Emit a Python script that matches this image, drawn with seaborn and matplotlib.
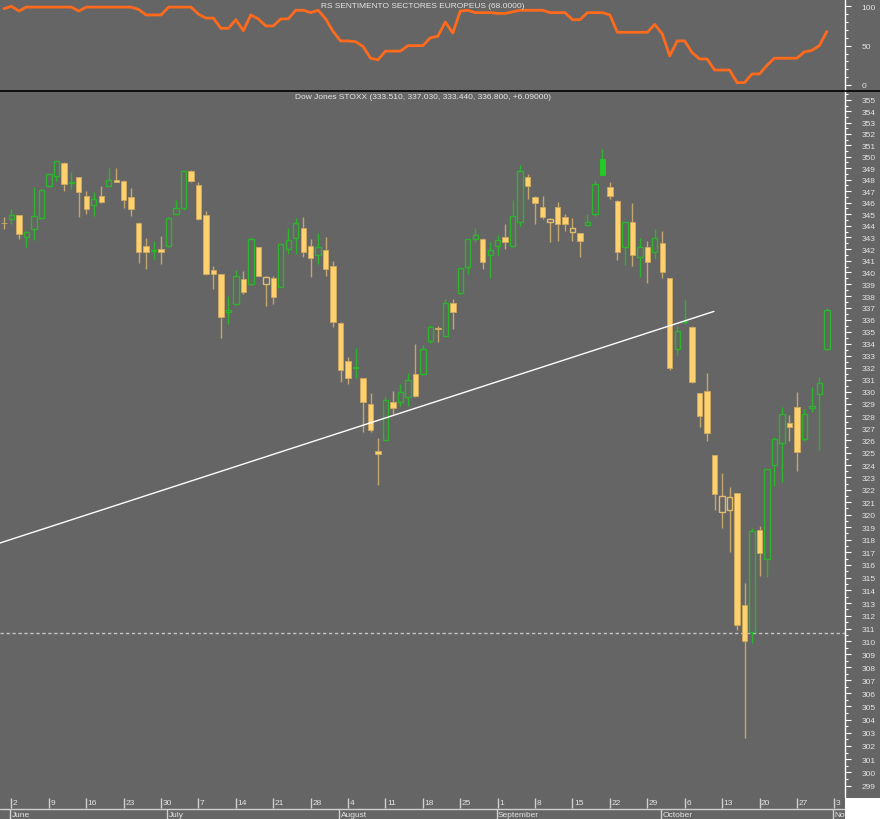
"""
Dow Jones STOXX daily candles (May 30 - Oct 31 2014) with the
RS Sentimento Sectores Europeus indicator panel on top.
"""

import numpy as np
import pandas as pd
import seaborn as sns
import matplotlib.pyplot as plt
from matplotlib.lines import Line2D
from matplotlib.patches import Rectangle
from matplotlib.ticker import FixedLocator, FuncFormatter, NullLocator

# ---- data -------------------------------------------------------------
opens = [344.22, 344.54, 344.90, 343.00, 343.68, 344.71, 347.44, 348.35, 349.48, 347.66,
         348.19, 346.60, 345.82, 346.56, 347.44, 347.95, 347.89, 346.46, 344.27, 342.24,
         341.86, 342.00, 342.24, 344.99, 345.50, 348.77, 347.56, 344.90, 340.23, 339.83,
         336.65, 337.32, 339.42, 339.03, 342.16, 339.03, 339.50, 338.80, 341.96, 342.92,
         343.84, 342.29, 341.45, 341.93, 340.58, 335.74, 332.58, 331.94, 331.13, 328.98,
         325.17, 326.06, 329.17, 329.12, 329.53, 331.45, 331.48, 334.19, 335.34, 334.67,
         337.40, 338.26, 340.43, 342.85, 342.90, 341.50, 342.29, 343.07, 342.29, 344.35,
         348.26, 346.46, 345.60, 344.30, 345.65, 344.76, 343.43, 343.35, 344.05, 345.00,
         349.79, 347.39, 346.18, 342.16, 344.30, 341.31, 342.16, 341.73, 342.52, 339.50,
         333.55, 335.77, 335.41, 329.89, 330.03, 324.82, 320.24, 320.41, 321.71, 312.86,
         310.70, 318.78, 316.48, 324.01, 325.77, 327.42, 328.70, 326.12, 328.68, 329.81,
         333.51]
highs = [344.78, 345.42, 344.92, 343.52, 347.36, 347.20, 348.53, 349.65, 349.55, 348.70,
         348.25, 346.97, 346.88, 347.42, 348.97, 348.97, 347.95, 347.24, 344.28, 342.92,
         342.72, 343.13, 344.73, 346.20, 348.83, 348.79, 347.82, 345.28, 340.58, 339.88,
         338.04, 340.22, 340.15, 343.04, 342.18, 339.72, 339.72, 342.44, 343.84, 344.66,
         344.72, 342.87, 343.37, 343.00, 340.94, 335.84, 332.85, 333.67, 331.17, 329.89,
         326.20, 329.66, 330.08, 330.63, 331.53, 333.96, 333.88, 335.52, 335.50, 337.79,
         337.79, 340.39, 342.89, 343.84, 342.94, 342.64, 343.19, 344.15, 346.23, 349.25,
         348.47, 346.60, 346.55, 344.71, 346.09, 345.00, 344.63, 343.38, 345.00, 347.98,
         350.71, 347.75, 346.19, 344.33, 345.96, 342.92, 342.72, 343.70, 343.57, 339.55,
         335.50, 337.74, 335.46, 329.91, 331.54, 324.85, 323.36, 322.20, 321.77, 314.56,
         318.90, 319.12, 323.70, 326.25, 328.70, 328.08, 329.95, 328.57, 330.36, 331.26,
         337.03]
lows = [343.76, 344.17, 342.86, 342.16, 342.78, 344.58, 347.36, 347.90, 347.00, 347.20,
        344.78, 345.00, 344.86, 345.98, 347.40, 347.76, 345.50, 344.86, 340.81, 340.33,
        341.16, 340.72, 342.18, 344.89, 345.39, 347.79, 344.47, 339.77, 338.60, 334.47,
        335.66, 337.27, 338.18, 338.94, 339.66, 337.18, 337.33, 338.73, 341.59, 341.59,
        341.30, 339.58, 340.72, 339.72, 335.38, 330.82, 330.63, 331.10, 326.66, 326.66,
        322.42, 325.99, 328.16, 328.85, 328.85, 329.60, 331.42, 334.09, 334.11, 334.60,
        335.22, 338.21, 339.87, 342.57, 340.31, 339.50, 341.45, 342.02, 342.18, 344.00,
        346.32, 344.15, 344.56, 342.64, 342.72, 343.58, 342.72, 341.30, 344.00, 344.88,
        348.43, 346.27, 341.10, 340.63, 340.52, 339.63, 339.11, 341.16, 339.50, 331.84,
        333.05, 335.64, 330.72, 327.07, 325.98, 320.38, 318.90, 316.99, 310.92, 302.59,
        309.92, 315.15, 315.02, 322.28, 322.61, 325.98, 323.51, 325.99, 328.35, 325.26,
        333.44]
closes = [344.20, 344.94, 343.32, 343.42, 344.87, 347.11, 348.47, 349.60, 347.61, 347.76,
          346.95, 345.45, 346.28, 346.03, 348.00, 347.82, 346.20, 345.45, 341.78, 341.78,
          341.91, 341.76, 344.71, 345.52, 348.77, 347.85, 344.56, 339.87, 339.85, 336.26,
          336.84, 339.72, 338.31, 342.85, 339.72, 339.58, 337.89, 342.39, 342.79, 344.27,
          341.78, 341.25, 342.16, 340.31, 335.85, 331.82, 331.10, 332.04, 329.17, 326.88,
          324.90, 329.34, 328.66, 329.95, 330.96, 329.61, 333.54, 335.42, 335.20, 337.38,
          336.62, 340.35, 342.85, 343.19, 340.91, 341.93, 342.79, 342.64, 344.80, 348.77,
          347.42, 345.94, 344.77, 344.56, 344.14, 344.12, 343.77, 342.72, 344.35, 347.61,
          348.44, 346.56, 341.78, 344.30, 341.45, 342.16, 340.91, 342.95, 340.08, 331.94,
          335.08, 335.87, 330.77, 327.97, 326.58, 321.62, 321.50, 321.45, 311.31, 310.05,
          318.66, 316.98, 323.68, 326.12, 328.16, 327.13, 325.04, 328.16, 328.85, 330.71,
          336.80]

# RS Sentimento Sectores Europeus, one value per session
rs_sentiment = [97, 100, 94, 99, 99, 99, 99, 99, 99, 99,
                94, 99, 99, 99, 99, 99, 99, 99, 96, 89,
                89, 89, 99, 99, 99, 99, 90, 85, 85, 72,
                72, 83, 69, 89, 84, 75, 75, 84, 84, 95,
                95, 92, 95, 84, 68, 56, 56, 55, 49, 34,
                32, 43, 43, 43, 50, 50, 50, 60, 62, 80,
                66, 94, 95, 92, 92, 92, 91, 91, 93, 95,
                95, 95, 95, 92, 92, 92, 83, 83, 92, 92,
                92, 89, 67, 67, 67, 67, 67, 77, 65, 37,
                56, 56, 41, 33, 33, 19, 19, 19, 3, 3,
                14, 14, 25, 34, 34, 34, 34, 42, 44, 50,
                68]

sessions = pd.bdate_range("2014-05-30", "2014-11-03")   # last one is only a label
trend_sessions = [-0.53, 94.9]          # hand-drawn trend line (session index)
trend_prices = [317.74, 336.70]
support_level = 310.65

title_rs = "RS SENTIMENTO SECTORES EUROPEUS (68.0000)"
title_px = "Dow Jones STOXX (333.510, 337.030, 333.440, 336.800, +6.09000)"

# ---- style ------------------------------------------------------------
BG = "#656565"
TXT = "#e4e4e4"
TAN = "#ffd06e"
TAN_EDGE = "#d0aa60"
TAN_WICK = "#c2a66c"
GREEN = "#2cb42c"

sns.set_theme(style="dark", rc={"axes.facecolor": BG, "figure.facecolor": BG})
plt.rcParams["font.family"] = ["Liberation Sans", "DejaVu Sans"]

W, H = 880, 820
fig = plt.figure(figsize=(W / 100, H / 100), dpi=100)
ax_rs = fig.add_axes([0, 729 / H, 845 / W, 91 / H])
ax = fig.add_axes([0, 21 / H, 845 / W, 707 / H])
ax_dt = fig.add_axes([0, 0, 845 / W, 21 / H])

xmin, xmax = -0.535, 112.43
n = len(closes)
x = np.arange(n)
o, c = np.array(opens), np.array(closes)
hi, lo = np.array(highs), np.array(lows)

for a in (ax_rs, ax, ax_dt):
    a.set_facecolor(BG)
    a.set_xlim(xmin, xmax)
    a.set_xticks([])
    for s in a.spines.values():
        s.set_visible(False)

for a in (ax_rs, ax):
    a.spines["right"].set_visible(True)
    a.spines["right"].set_color("white")
    a.spines["right"].set_linewidth(1)
    a.yaxis.tick_right()
    a.tick_params(axis="y", which="major", length=4.3, width=0.8, color="white",
                  pad=7.5, labelsize=6, labelcolor=TXT)
    a.tick_params(axis="y", which="minor", length=2.2, width=0.8, color="white")

# ---- RS panel ---------------------------------------------------------
sns.lineplot(x=x, y=rs_sentiment, ax=ax_rs, color="#ff6a1c", lw=2.0, legend=False)
ax_rs.set_ylim(-6.4, 109.3)
ax_rs.set_yticks([0, 50, 100])
ax_rs.yaxis.set_minor_locator(FixedLocator(range(0, 101, 10)))
ax_rs.set_ylabel("")
ax_rs.text(0.5, 0.93, title_rs, transform=ax_rs.transAxes, ha="center", va="center",
           fontsize=6, color=TXT)

# ---- candles ----------------------------------------------------------
prev_close = np.r_[np.inf, c[:-1]]
up_day = c > prev_close          # green vs tan
hollow = c > o                   # hollow when close above open
body_lo = np.minimum(o, c)
body_hi = np.maximum(o, c)
height = np.maximum(body_hi - body_lo, 0.04)
col = np.where(up_day, GREEN, TAN_WICK)

ax.vlines(x, lo, body_lo, colors=col, lw=1, zorder=2)
ax.vlines(x, body_hi, hi, colors=col, lw=1, zorder=2)

bw = 0.72
m = ~up_day & ~hollow
ax.bar(x[m], height[m], bottom=body_lo[m], width=bw, color=TAN,
       edgecolor=TAN_EDGE, lw=0.6, zorder=3)
m = ~up_day & hollow
ax.bar(x[m], height[m], bottom=body_lo[m], width=bw, color=BG,
       edgecolor="#e0bc6c", lw=1.0, zorder=3)
m = up_day & hollow
ax.bar(x[m], height[m], bottom=body_lo[m], width=bw, color=BG,
       edgecolor=GREEN, lw=1.0, zorder=3)
m = up_day & ~hollow
ax.bar(x[m], height[m], bottom=body_lo[m], width=bw, color="#22cc22",
       edgecolor="#22cc22", lw=0.6, zorder=3)

ax.plot(trend_sessions, trend_prices, color="white", lw=1, zorder=4)
ax.axhline(support_level, color="#c4c4c4", lw=1, ls=(0, (2.4, 1.9)), zorder=1)

ax.set_yscale("log")
ax.set_ylim(298.09, 355.8)
ax.yaxis.set_major_locator(FixedLocator(range(299, 356)))
ax.yaxis.set_minor_locator(FixedLocator(np.arange(299.5, 356, 1)))
ax.yaxis.set_major_formatter(FuncFormatter(lambda v, _: f"{v:.0f}"))
ax.yaxis.set_minor_formatter(FuncFormatter(lambda v, _: ""))
ax.text(0.5, 0.992, title_px, transform=ax.transAxes, ha="center", va="center",
        fontsize=6, color=TXT)

# ---- date strip -------------------------------------------------------
ax_dt.set_ylim(0, 21)
ax_dt.set_yticks([])
ax_dt.axhline(10, color="#cfcfcf", lw=1)
month_names = {6: "June", 7: "July", 8: "August", 9: "September",
               10: "October", 11: "November"}
for i, d in enumerate(sessions):
    if d.weekday() == 0:
        ax_dt.vlines(i, 11, 21, colors="#d0d0d0", lw=1)
        ax_dt.text(i + 0.2, 16, str(d.day), ha="left", va="center",
                   fontsize=6, color=TXT, clip_on=True)
    if i > 0 and d.month != sessions[i - 1].month:
        ax_dt.vlines(i - 0.15, 0, 10, colors="#d0d0d0", lw=1)
        ax_dt.text(i + 0.05, 4.3, month_names[d.month], ha="left", va="center",
                   fontsize=6, color=TXT, clip_on=True)

# separators and the blank corner under the price scale
fig.add_artist(Line2D([0, 1], [1 - 91.5 / H] * 2, color="black", lw=1.2,
                      transform=fig.transFigure))
fig.add_artist(Rectangle((845 / W, 0), 35 / W, 21 / H, transform=fig.transFigure,
                         facecolor="white", edgecolor="none", zorder=5))

fig.savefig("out.png", dpi=100, facecolor=BG)
